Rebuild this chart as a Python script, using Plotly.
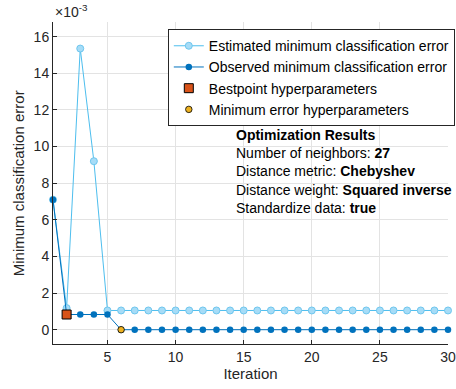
import plotly.graph_objects as go

iterations = list(range(1, 31))
estimated_min = [7.1e-3, 1.18e-3, 15.35e-3, 9.2e-3] + [1.05e-3] * 26
observed_min = [7.1e-3, 0.83e-3, 0.83e-3, 0.83e-3, 0.83e-3] + [0.0] * 25
best_iter, best_val = [2], [0.83e-3]
minerr_iter, minerr_val = [6], [0.0]
ytick_vals = [0, 2e-3, 4e-3, 6e-3, 8e-3, 10e-3, 12e-3, 14e-3, 16e-3]
ytick_text = ["0", "2", "4", "6", "8", "10", "12", "14", "16"]
xtick_vals = [5, 10, 15, 20, 25, 30]

FONT = "Liberation Sans, Arial, Helvetica, sans-serif"
BOLD = '<b>%s</b>'
AX = "#262626"

fig = go.Figure()
fig.add_trace(go.Scatter(
    x=iterations, y=estimated_min, mode="lines+markers",
    name="Estimated minimum classification error",
    line=dict(color="#4dbeee", width=1),
    marker=dict(size=7, color="#a6dcf7", line=dict(color="#6ec6ee", width=1)),
    cliponaxis=False))
fig.add_trace(go.Scatter(
    x=iterations, y=observed_min, mode="lines+markers",
    name="Observed minimum classification error",
    line=dict(color="#0072bd", width=1),
    marker=dict(size=6.5, color="#0072bd"),
    cliponaxis=False))
fig.add_trace(go.Scatter(
    x=best_iter, y=best_val, mode="markers",
    name="Bestpoint hyperparameters",
    marker=dict(symbol="square", size=9, color="#d95319", line=dict(color="#000000", width=1)),
    cliponaxis=False))
fig.add_trace(go.Scatter(
    x=minerr_iter, y=minerr_val, mode="markers",
    name="Minimum error hyperparameters",
    marker=dict(symbol="circle", size=6.5, color="#edb120", line=dict(color="#000000", width=0.8)),
    cliponaxis=False))

fig.update_layout(
    width=456, height=389,
    margin=dict(l=53, r=8, t=22, b=45, autoexpand=False),
    paper_bgcolor="white", plot_bgcolor="white",
    font=dict(family=FONT, size=14, color=AX),
    showlegend=True,
    legend=dict(xref="container", yref="container", x=0.368, y=0.925,
                xanchor="left", yanchor="top",
                bgcolor="white", bordercolor="#262626", borderwidth=1,
                font=dict(size=14, color="#000000"),
                tracegroupgap=0, itemwidth=30),
    xaxis=dict(range=[1, 30], tickvals=xtick_vals, showgrid=True,
               gridcolor="#e3e3e3", gridwidth=1, zeroline=False,
               showline=True, linecolor=AX, linewidth=1,
               ticks="inside", ticklen=4, tickcolor=AX,
               title=dict(text="Iteration", font=dict(size=15), standoff=4),
               tickfont=dict(size=14)),
    yaxis=dict(range=[-0.00078, 0.0168], tickvals=ytick_vals, ticktext=ytick_text,
               showgrid=True, gridcolor="#e3e3e3", gridwidth=1, zeroline=False,
               showline=True, linecolor=AX, linewidth=1,
               ticks="inside", ticklen=4, tickcolor=AX,
               tickfont=dict(size=14)),
)

fig.add_annotation(xref="paper", yref="paper", x=-0.088, y=0.5, xanchor="center", yanchor="middle",
                   text="Minimum classification error", textangle=-90, showarrow=False,
                   font=dict(size=15, color=AX))

fig.add_annotation(xref="paper", yref="paper", x=0.0, y=1.0, xanchor="left", yanchor="bottom",
                   text="×10<sup>-3</sup>", showarrow=False, font=dict(size=14, color=AX))

fig.add_annotation(
    xref="paper", yref="paper", x=0.458, y=0.68, xanchor="left", yanchor="top",
    align="left", showarrow=False, font=dict(size=14, color="#000000"),
    text=(BOLD % "Optimization Results" + "<br>"
          "Number of neighbors: " + BOLD % "27" + "<br>"
          "Distance metric: " + BOLD % "Chebyshev" + "<br>"
          "Distance weight: " + BOLD % "Squared inverse" + "<br>"
          "Standardize data: " + BOLD % "true"))

fig.write_html("out.html")
